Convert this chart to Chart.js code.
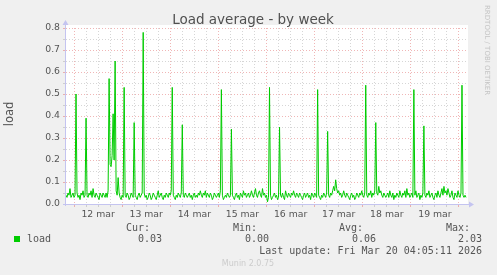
<!DOCTYPE html>
<html>
<head>
<meta charset="utf-8">
<script src="https://cdn.jsdelivr.net/npm/chart.js@4/dist/chart.umd.min.js"></script>
<style>
html, body { margin: 0; padding: 0; background: #f0f0f0; }
canvas { display: block; }
</style>
</head>
<body>
<canvas id="loadChart" width="497" height="275"></canvas>
<script>
// one sample every 30 min, starting 11 mar 20:00 (hours counted from 11 mar 00:00)
const START_HOUR = 20;
const STEP_HOURS = 0.5;

const load = [
    0.04,0.03,0.05,0.04,0.07,0.03,0.04,0.05,0.03,0.04, 0.50,0.05,0.03,0.04,0.02,0.05,0.04,0.06,0.03,0.04,
    0.39,0.04,0.03,0.05,0.04,0.06,0.03,0.07,0.04,0.03, 0.05,0.04,0.03,0.02,0.05,0.04,0.03,0.05,0.04,0.03,
    0.05,0.03,0.06,0.57,0.18,0.17,0.22,0.41,0.20,0.65, 0.06,0.04,0.12,0.05,0.03,0.02,0.04,0.03,0.53,0.04,
    0.03,0.05,0.04,0.02,0.03,0.05,0.04,0.03,0.37,0.04, 0.03,0.02,0.04,0.05,0.03,0.04,0.05,0.78,0.05,0.03,
    0.04,0.02,0.03,0.05,0.04,0.02,0.03,0.05,0.04,0.03, 0.02,0.04,0.06,0.03,0.04,0.05,0.03,0.02,0.04,0.03,
    0.05,0.04,0.03,0.05,0.04,0.06,0.53,0.04,0.03,0.02, 0.04,0.03,0.05,0.04,0.03,0.05,0.36,0.04,0.03,0.05,
    0.04,0.03,0.04,0.05,0.03,0.04,0.02,0.04,0.05,0.03, 0.04,0.03,0.05,0.04,0.06,0.04,0.03,0.05,0.04,0.06,
    0.03,0.05,0.04,0.03,0.05,0.04,0.02,0.03,0.05,0.04, 0.03,0.04,0.05,0.03,0.06,0.52,0.04,0.02,0.03,0.04,
    0.03,0.05,0.04,0.03,0.04,0.34,0.04,0.03,0.02,0.04, 0.05,0.03,0.04,0.02,0.05,0.04,0.03,0.06,0.04,0.05,
    0.03,0.04,0.05,0.03,0.04,0.06,0.04,0.03,0.05,0.07, 0.04,0.03,0.05,0.06,0.04,0.03,0.07,0.04,0.05,0.03,
    0.04,0.01,0.03,0.53,0.04,0.02,0.03,0.04,0.05,0.03, 0.04,0.02,0.03,0.35,0.04,0.03,0.05,0.03,0.02,0.06,
    0.04,0.03,0.05,0.04,0.03,0.05,0.04,0.06,0.04,0.03, 0.05,0.04,0.03,0.05,0.04,0.03,0.02,0.04,0.05,0.03,
    0.04,0.05,0.03,0.04,0.02,0.05,0.04,0.03,0.05,0.04, 0.03,0.52,0.04,0.03,0.02,0.04,0.03,0.05,0.04,0.03,
    0.05,0.33,0.04,0.03,0.05,0.04,0.06,0.08,0.06,0.11, 0.07,0.05,0.06,0.04,0.05,0.03,0.04,0.06,0.04,0.03,
    0.05,0.04,0.03,0.02,0.04,0.05,0.03,0.04,0.02,0.03, 0.05,0.04,0.03,0.05,0.04,0.06,0.04,0.03,0.05,0.54,
    0.04,0.03,0.05,0.04,0.06,0.03,0.05,0.04,0.06,0.37, 0.05,0.04,0.08,0.05,0.06,0.04,0.03,0.05,0.04,0.03,
    0.04,0.05,0.03,0.06,0.04,0.03,0.05,0.02,0.04,0.03, 0.05,0.04,0.03,0.06,0.04,0.03,0.05,0.04,0.06,0.03,
    0.07,0.04,0.05,0.03,0.04,0.05,0.03,0.52,0.04,0.06, 0.03,0.04,0.05,0.02,0.04,0.03,0.05,0.355,0.04,0.03,
    0.05,0.04,0.06,0.03,0.04,0.05,0.03,0.02,0.04,0.05, 0.03,0.06,0.04,0.03,0.05,0.07,0.04,0.08,0.05,0.06,
    0.04,0.07,0.05,0.03,0.04,0.06,0.03,0.02,0.05,0.04, 0.03,0.06,0.04,0.03,0.05,0.54,0.04,0.03,0.04,0.03
];

const dayLabels = ['12 mar', '13 mar', '14 mar', '15 mar', '16 mar', '17 mar', '18 mar', '19 mar'];
const yTickValues = [0, 0.05, 0.1, 0.15, 0.2, 0.25, 0.3, 0.35, 0.4, 0.45, 0.5, 0.55, 0.6, 0.65, 0.7, 0.75, 0.8];

const legendHeaders = ['Cur:', 'Min:', 'Avg:', 'Max:'];
const legendValues = ['0.03', '0.00', '0.06', '2.03'];

const RED_GRID = 'rgba(225, 110, 110, 0.5)';
const GREY_GRID = 'rgba(165, 165, 165, 0.45)';
const AXIS_COLOR = '#c4c4f0';
const TEXT_COLOR = '#555555';

const points = load.map((v, i) => ({ x: START_HOUR + i * STEP_HOURS, y: v }));
const xMin = START_HOUR;
const xMax = START_HOUR + load.length * STEP_HOURS;

// munin frame: grey page, white plot, axis arrows and all the text around it
const muninFrame = {
    id: 'muninFrame',
    beforeDraw(chart) {
        const ctx = chart.ctx;
        const a = chart.chartArea;
        ctx.save();
        ctx.fillStyle = '#f0f0f0';
        ctx.fillRect(0, 0, chart.width, chart.height);
        ctx.fillStyle = '#ffffff';
        ctx.fillRect(a.left, a.top - 3, a.right - a.left + 1, a.bottom - a.top + 3);
        ctx.restore();
    },
    afterDraw(chart) {
        const ctx = chart.ctx;
        const a = chart.chartArea;
        ctx.save();

        // axes with arrows
        ctx.strokeStyle = AXIS_COLOR;
        ctx.fillStyle = AXIS_COLOR;
        ctx.lineWidth = 1;
        ctx.beginPath();
        ctx.moveTo(a.left - 0.5, a.bottom + 2);
        ctx.lineTo(a.left - 0.5, a.top - 4);
        ctx.moveTo(a.left - 3, a.bottom + 0.5);
        ctx.lineTo(a.right + 3, a.bottom + 0.5);
        ctx.stroke();
        ctx.beginPath();
        ctx.moveTo(a.left - 3.5, a.top - 3);
        ctx.lineTo(a.left + 2.5, a.top - 3);
        ctx.lineTo(a.left - 0.5, a.top - 8);
        ctx.closePath();
        ctx.fill();
        ctx.beginPath();
        ctx.moveTo(a.right + 2, a.bottom - 2.5);
        ctx.lineTo(a.right + 2, a.bottom + 3.5);
        ctx.lineTo(a.right + 7, a.bottom + 0.5);
        ctx.closePath();
        ctx.fill();

        // title
        ctx.fillStyle = '#505050';
        ctx.font = '13.5px "DejaVu Sans"';
        ctx.textAlign = 'center';
        ctx.textBaseline = 'alphabetic';
        ctx.fillText('Load average - by week', 253, 24);

        // y axis title
        ctx.save();
        ctx.translate(10, 114);
        ctx.rotate(-Math.PI / 2);
        ctx.font = '11.5px "DejaVu Sans"';
        ctx.textBaseline = 'middle';
        ctx.fillStyle = TEXT_COLOR;
        ctx.fillText('load', 0, 0);
        ctx.restore();

        // rrdtool credit
        ctx.save();
        ctx.translate(487, 5);
        ctx.rotate(Math.PI / 2);
        ctx.font = '7px "DejaVu Sans"';
        ctx.textAlign = 'left';
        ctx.textBaseline = 'middle';
        ctx.fillStyle = '#c4c4c4';
        ctx.fillText('RRDTOOL / TOBI OETIKER', 0, 0);
        ctx.restore();

        // legend
        ctx.fillStyle = '#00cc00';
        ctx.fillRect(14, 236, 6, 6);
        ctx.font = '10px "DejaVu Sans Mono"';
        ctx.textBaseline = 'middle';
        ctx.fillStyle = TEXT_COLOR;
        ctx.textAlign = 'left';
        ctx.fillText('load', 27, 239.5);
        const headerRight = [150, 257, 363, 470];
        const valueRight = [162, 269, 376, 482];
        ctx.textAlign = 'right';
        legendHeaders.forEach((h, i) => ctx.fillText(h, headerRight[i], 228));
        legendValues.forEach((v, i) => ctx.fillText(v, valueRight[i], 239.5));
        ctx.fillText('Last update: Fri Mar 20 04:05:11 2026', 482, 251);

        ctx.textAlign = 'center';
        ctx.font = '8px "DejaVu Sans"';
        ctx.fillStyle = '#cccccc';
        ctx.fillText('Munin 2.0.75', 248, 264);

        ctx.restore();
    }
};

const ctx = document.getElementById('loadChart').getContext('2d');

new Chart(ctx, {
    type: 'line',
    data: {
        datasets: [{
            data: points,
            borderColor: '#00cc00',
            borderWidth: 1,
            pointRadius: 0,
            fill: false,
            tension: 0
        }]
    },
    options: {
        responsive: false,
        animation: false,
        events: [],
        layout: {
            padding: { top: 28, right: 30, bottom: 0, left: 0 }
        },
        scales: {
            x: {
                type: 'linear',
                min: xMin,
                max: xMax,
                afterFit: function(scale) { scale.height = 71; },
                afterBuildTicks: function(scale) {
                    const ticks = [];
                    for (let h = 24; h <= 216; h += 6) ticks.push({ value: h });
                    scale.ticks = ticks;
                },
                ticks: {
                    autoSkip: false,
                    maxRotation: 0,
                    padding: 2,
                    color: TEXT_COLOR,
                    font: { family: 'DejaVu Sans', size: 9.3 },
                    callback: function(value) {
                        if (value % 24 === 12) return dayLabels[(value - 36) / 24];
                        return '';
                    }
                },
                grid: {
                    color: function(context) {
                        const v = context.tick ? context.tick.value : 0;
                        return v % 24 === 0 ? RED_GRID : GREY_GRID;
                    },
                    lineWidth: 1,
                    tickLength: 3
                },
                border: { display: false, dash: [1, 2] }
            },
            y: {
                type: 'linear',
                min: 0,
                max: 0.8,
                afterFit: function(scale) { scale.width = 66; },
                afterBuildTicks: function(scale) {
                    scale.ticks = yTickValues.map(v => ({ value: v }));
                },
                ticks: {
                    autoSkip: false,
                    padding: 3,
                    color: TEXT_COLOR,
                    font: { family: 'DejaVu Sans', size: 9.3 },
                    callback: function(value) {
                        return Math.round(value * 100) % 10 === 0 ? value.toFixed(1) : '';
                    }
                },
                grid: {
                    color: function(context) {
                        const v = context.tick ? context.tick.value : 0;
                        return Math.round(v * 100) % 10 === 0 ? RED_GRID : GREY_GRID;
                    },
                    lineWidth: 1,
                    tickLength: 3
                },
                border: { display: false, dash: [1, 2] }
            }
        },
        plugins: {
            legend: { display: false },
            title: { display: false },
            tooltip: { enabled: false }
        }
    },
    plugins: [muninFrame]
});
</script>
</body>
</html>
